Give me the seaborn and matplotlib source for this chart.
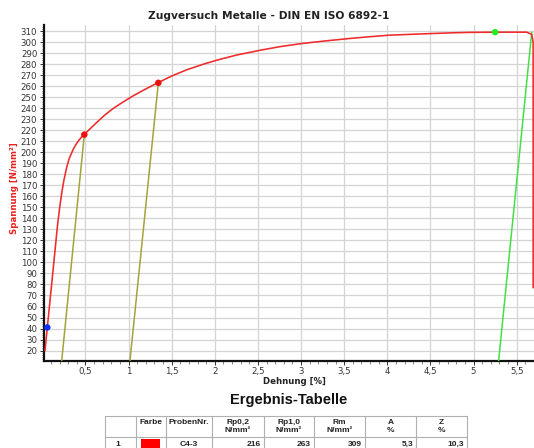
import numpy as np
import pandas as pd
import matplotlib
matplotlib.use("Agg")
import matplotlib.pyplot as plt
import seaborn as sns
from matplotlib.patches import Rectangle

# ---------------- data ----------------
strain = [0.031, 0.058, 0.09, 0.117, 0.15, 0.174, 0.20, 0.225, 0.25, 0.283, 0.31,
          0.36, 0.39, 0.417, 0.45, 0.487, 0.55, 0.63, 0.72, 0.82, 0.93, 1.055,
          1.2, 1.345, 1.5, 1.673, 1.85, 2.02, 2.25, 2.52, 2.75, 3.02, 3.3, 3.57,
          3.8, 4.03, 4.3, 4.53, 4.75, 4.96, 5.249, 5.616, 5.674, 5.69, 5.69]
stress = [20, 41, 66, 87, 113, 132, 149, 163, 174.5, 186.5, 194,
          203, 207, 210.2, 213.4, 216.3, 221, 227, 233.5, 239.7, 245.3, 251.3,
          257.5, 263.3, 269.2, 274.8, 279.5, 283.5, 288.2, 292.5, 295.8, 298.8, 301.2, 303.3,
          304.9, 306.3, 307.1, 307.8, 308.4, 308.8, 309, 309, 307, 300, 77]

# offset lines (start point at the zero line, end point on the curve)
off_x0 = [0.211, 1.002, 5.276]
off_y0 = [0, 0, 0]
off_x1 = [0.487, 1.345, 5.674]
off_y1 = [216, 263, 309]
off_colors = ["#a3a33c", "#a3a33c", "#44e044"]

pts_x = [0.058, 0.487, 1.345, 5.249]
pts_y = [41, 216, 263, 309]
pts_c = ["#1030ff", "#ee1111", "#ee1111", "#22ee22"]

x_ticks = [0.5, 1, 1.5, 2, 2.5, 3, 3.5, 4, 4.5, 5, 5.5]
x_labels = ["0,5", "1", "1,5", "2", "2,5", "3", "3,5", "4", "4,5", "5", "5,5"]
y_ticks = list(range(20, 311, 10))

title = "Zugversuch Metalle - DIN EN ISO 6892-1"
x_title = "Dehnung [%]"
y_title = "Spannung [N/mm²]"
table_title = "Ergebnis-Tabelle"
tab_head1 = ["", "Farbe", "ProbenNr.", "Rp0,2", "Rp1,0", "Rm", "A", "Z"]
tab_head2 = ["", "", "", "N/mm²", "N/mm²", "N/mm²", "%", "%"]
tab_row = ["1", "", "C4-3", "216", "263", "309", "5,3", "10,3"]

# ---------------- figure ----------------
sns.set_theme(style="white")
plt.rcParams["font.family"] = ["DejaVu Sans"]

W, H = 534, 448
fig = plt.figure(figsize=(W / 100, H / 100), dpi=100)
ax = fig.add_axes([44.3 / W, 1 - 360.5 / H, 1 - 44.3 / W, (360.5 - 25) / H])

df = pd.DataFrame({"Dehnung": strain, "Spannung": stress})
sns.lineplot(data=df, x="Dehnung", y="Spannung", sort=False, estimator=None,
             color="#ee2a2a", lw=1.15, ax=ax, zorder=4)
for i in range(len(off_x0)):
    dfl = pd.DataFrame({"x": [off_x0[i], off_x1[i]], "y": [off_y0[i], off_y1[i]]})
    sns.lineplot(data=dfl, x="x", y="y", sort=False, estimator=None,
                 color=off_colors[i], lw=1.1, ax=ax, zorder=3)
dfp = pd.DataFrame({"x": pts_x, "y": pts_y, "c": [str(i) for i in range(len(pts_x))]})
sns.scatterplot(data=dfp, x="x", y="y", hue="c", palette=pts_c, s=22,
                edgecolor="none", legend=False, ax=ax, zorder=5)

ax.set_xlim(0.023, 5.70)
ax.set_ylim(11, 315.5)
ax.set_xticks(x_ticks)
ax.set_xticklabels(x_labels)
ax.set_yticks(y_ticks)
ax.set_yticklabels([str(v) for v in y_ticks])
ax.set_xticks(np.arange(0.1, 5.7, 0.1), minor=True)
ax.set_yticks(np.arange(12, 316, 2), minor=True)
ax.set_xlabel("")
ax.set_ylabel("")
ax.grid(True, which="major", color="#d4d4d4", lw=0.9)
ax.set_axisbelow(True)
for s in ["top", "right"]:
    ax.spines[s].set_visible(False)
for s in ["left", "bottom"]:
    ax.spines[s].set_color("#111111")
    ax.spines[s].set_linewidth(1.6)
ax.tick_params(axis="both", which="major", length=3, width=0.7, color="#333333",
               labelsize=6.2, labelcolor="#333333", pad=2, direction="out",
               left=True, bottom=True)
ax.tick_params(axis="both", which="minor", length=1.8, width=0.5, color="#555555",
               direction="out", left=True, bottom=True)
for lab in ax.get_xticklabels() + ax.get_yticklabels():
    lab.set_family("DejaVu Sans")

fig.text(269 / W, 1 - 16 / H, title, ha="center", va="center", fontsize=7.7,
         fontweight="bold", color="#222222")
fig.text(294 / W, 1 - 381 / H, x_title, ha="center", va="center", fontsize=6.2,
         fontweight="bold", color="#222222")
fig.text(15 / W, 1 - 188 / H, y_title, ha="center", va="center", fontsize=6.2,
         fontweight="bold", color="#e82020", rotation=90)

# ---------------- table ----------------
tx = fig.add_axes([0, 0, 1, 1], zorder=10)
tx.set_xlim(0, W)
tx.set_ylim(H, 0)
tx.axis("off")
tx.patch.set_alpha(0)

tx.text(289, 400, table_title, ha="center", va="center", fontsize=10.5,
        family="Liberation Sans", fontweight="bold", color="#111111")

col_edges = [105, 136, 166, 212, 264, 314, 365, 416, 467]
top, sep, bot = 416.5, 437.5, 460
gcol = "#b0b0b0"
tx.plot([col_edges[0], col_edges[-1]], [top, top], color=gcol, lw=0.8)
tx.plot([col_edges[0], col_edges[-1]], [sep, sep], color=gcol, lw=0.8)
for xe in col_edges:
    tx.plot([xe, xe], [top, bot], color=gcol, lw=0.8)

for i in range(len(tab_head1)):
    xc = (col_edges[i] + col_edges[i + 1]) / 2
    if tab_head1[i]:
        tx.text(xc, 422.5, tab_head1[i], ha="center", va="center", fontsize=6.0,
                family="Liberation Sans", fontweight="bold", color="#222222")
    if tab_head2[i]:
        tx.text(xc, 431, tab_head2[i], ha="center", va="center", fontsize=6.0,
                family="Liberation Sans", fontweight="bold", color="#222222")

tx.add_patch(Rectangle((140.5, 439.5), 19, 10, color="#ff0000", lw=0))
for i, v in enumerate(tab_row):
    if not v:
        continue
    if i == 0:
        tx.text(118, 444, v, ha="center", va="center", fontsize=6.0,
                family="Liberation Sans", fontweight="bold", color="#222222")
    elif i == 2:
        tx.text(189, 444, v, ha="center", va="center", fontsize=6.0,
                family="Liberation Sans", fontweight="bold", color="#222222")
    else:
        tx.text(col_edges[i + 1] - 3, 444, v, ha="right", va="center", fontsize=6.0,
                family="Liberation Sans", fontweight="bold", color="#222222")

fig.savefig("out.png", dpi=100, facecolor="white")
